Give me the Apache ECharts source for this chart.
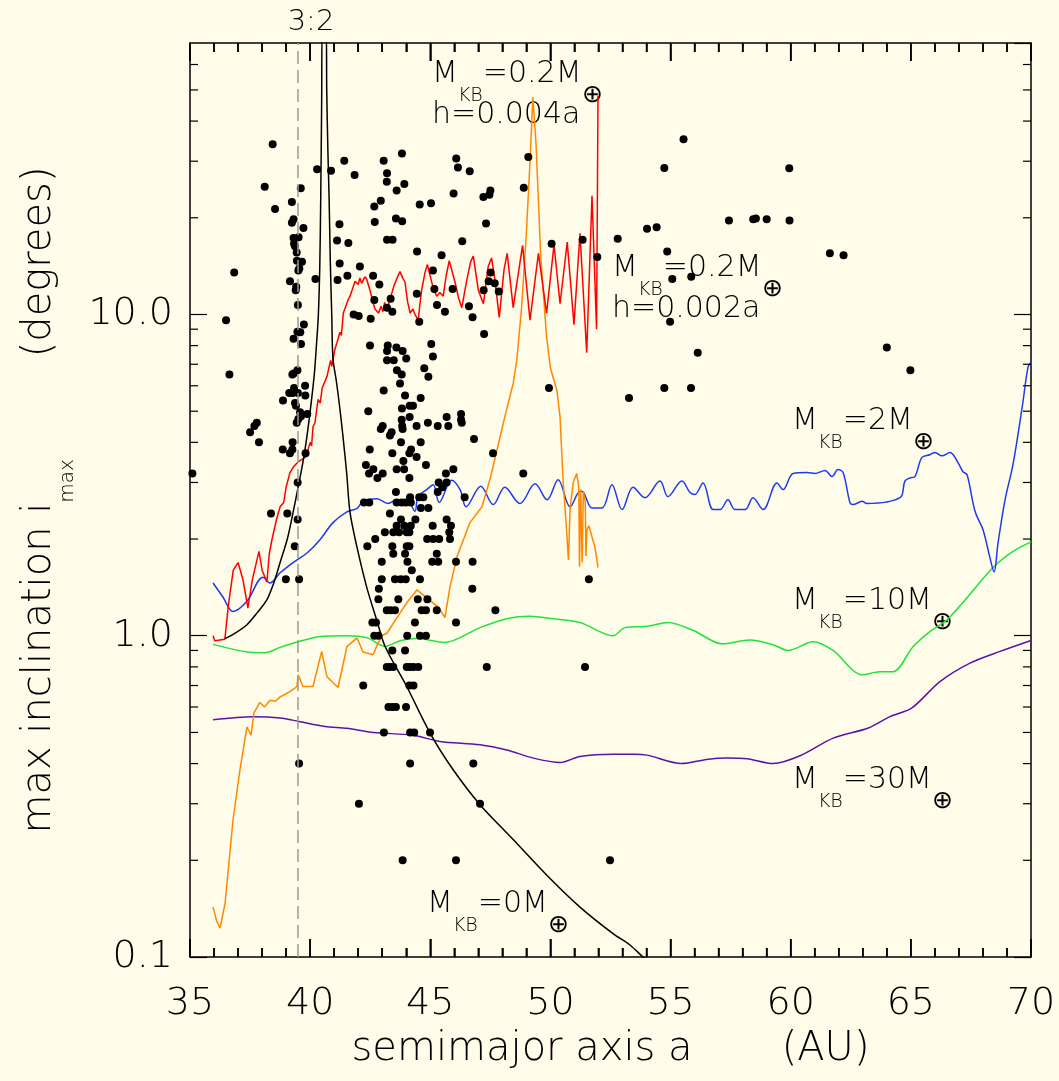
<!DOCTYPE html>
<html>
<head>
<meta charset="utf-8">
<script src="https://cdn.jsdelivr.net/npm/echarts@6/dist/echarts.min.js"></script>
<style>
html,body{margin:0;padding:0;background:#fffcea;}
#c{width:1059px;height:1081px;}
</style>
</head>
<body>
<div id="c"></div>
<script>
// ---------- data ----------
const res32 = 39.48;             // 3:2 resonance (dashed line)
const xTickVals = [35,36,37,38,39,40,41,42,43,44,45,46,47,48,49,50,51,52,53,54,55,56,57,58,59,60,61,62,63,64,65,66,67,68,69,70];
const yMinor = [0.2,0.3,0.4,0.5,0.6,0.7,0.8,0.9,2,3,4,5,6,7,8,9,20,30,40,50,60];

// observed Kuiper belt objects (a [AU], i_max [deg])
const kbo = [
[35.1,3.2],[36.5,9.6],[36.64,6.5],[36.84,13.5],[37.5,4.3],[37.68,4.5],[37.78,4.6],[37.87,4.0],
[38.11,25.0],[38.44,33.9],[38.54,21.3],[38.37,2.4],[38.86,3.8],[38.87,5.4],[38.99,1.5],[39.05,2.4],
[39.13,5.7],[39.16,12.7],[39.16,3.7],[39.24,22.4],[39.24,19.3],[39.26,6.5],[39.26,3.8],[39.27,5.7],
[39.27,4.0],[39.31,19.8],[39.31,17.3],[39.31,8.4],[39.31,6.55],[39.33,16.6],[39.33,5.9],[39.36,1.9],
[39.37,16.3],[39.37,5.3],[39.4,11.9],[39.42,12.2],[39.41,5.2],[39.44,15.6],[39.44,4.6],[39.45,14.7],
[39.47,8.83],[39.47,6.7],[39.48,3.0],[39.48,2.3],[39.49,10.7],[39.49,5.7],[39.51,13.7],[39.51,4.73],
[39.52,17.4],[39.54,1.5],[39.54,0.4],[39.55,13.9],[39.58,4.96],[39.59,8.8],[39.61,24.7],[39.62,8.1],
[39.62,4.82],[39.66,14.6],[39.72,18.6],[39.74,9.3],[39.79,6.0],[39.8,5.6],[39.81,3.7],[39.88,4.9],
[40.22,12.9],[40.29,28.3],[40.87,28.0],[41.12,17.0],[41.14,12.8],[41.22,19.1],[41.23,14.4],[41.42,30.1],
[41.85,27.2],[43.06,30.1],[43.82,31.7],[43.2,27.5],[43.19,25.9],[43.92,25.5],[43.6,24.3],
[46.08,30.6],[46.15,28.7],[46.64,27.9],[45.97,23.8],[47.5,24.3],[47.46,23.6],[47.21,23.2],
[42.94,22.6],[42.67,21.7],[44.56,22.0],[45.03,22.2],[43.57,19.9],[43.83,19.5],[42.69,19.4],[47.32,19.2],
[43.2,17.1],[43.43,17.1],[41.59,16.7],[46.33,16.9],[44.45,15.7],[45.47,15.3],
[42.07,14.1],[41.55,13.2],[42.62,13.2],[45.11,13.7],[42.88,12.4],[45.17,12.0],[45.93,12.0],[44.44,11.6],
[47.51,13.5],[47.43,12.7],[47.68,12.5],[47.22,11.9],[47.85,11.8],
[42.67,11.1],[43.35,11.2],[43.2,10.5],[43.42,10.2],[45.28,10.7],[45.61,10.2],[46.61,10.6],[46.76,9.8],
[41.81,10.0],[42.02,9.9],[42.52,9.7],[44.54,9.5],[47.24,8.7],
[42.49,8.0],[43.23,8.0],[43.2,7.7],[43.59,7.9],[43.85,7.7],[45.04,8.1],[45.11,7.4],
[43.2,7.2],[43.48,7.2],[44.0,7.3],[43.61,6.7],[43.81,6.5],[44.75,6.8],[44.92,6.4],
[43.74,6.1],[43.06,5.8],[43.95,5.6],[44.6,5.5],[44.14,5.2],[44.28,5.2],[43.82,5.1],
[42.42,5.0],[43.81,4.7],[44.14,4.8],[45.68,4.8],[46.28,4.9],[46.28,4.7],[46.31,4.6],
[44.9,4.6],[44.43,4.5],[45.31,4.5],[45.75,4.5],[43.83,4.5],[43.02,4.5],[42.94,4.4],
[43.39,4.3],[43.32,4.2],[43.85,4.4],[46.82,4.1],[43.78,4.0],[44.6,4.0],[42.48,3.8],[43.42,3.7],
[44.2,3.8],[44.13,3.7],[44.43,3.6],[47.61,3.7],[43.88,3.5],[44.82,3.4],
[42.32,3.4],[42.63,3.3],[42.45,3.2],[42.8,3.1],[43.02,3.2],[43.6,3.3],[43.91,3.3],[44.13,3.1],
[45.96,3.3],[45.65,3.2],[45.35,3.0],[45.68,3.0],[45.5,2.9],[45.31,2.8],[43.57,2.8],
[42.24,2.6],[42.46,2.6],[43.6,2.6],[43.81,2.6],[43.98,2.6],[44.16,2.7],[44.19,2.6],[44.54,2.7],[44.71,2.7],
[44.61,2.5],[44.92,2.5],[46.43,2.7],[43.32,2.4],[43.78,2.3],[44.38,2.3],[45.68,2.3],
[43.6,2.2],[43.92,2.2],[44.19,2.2],[45.1,2.2],[45.86,2.2],
[43.11,2.1],[43.46,2.1],[43.7,2.1],[44.02,2.1],[44.13,2.1],[45.79,2.1],
[42.71,2.0],[44.87,2.0],[45.12,2.0],[45.37,2.0],[45.82,2.0],
[42.38,1.9],[43.42,1.9],[44.02,1.9],[44.13,1.9],[43.46,1.8],[43.95,1.8],[45.27,1.8],
[42.98,1.7],[44.05,1.7],[45.08,1.7],[45.33,1.7],[46.07,1.7],[46.76,1.7],[44.23,1.6],
[42.98,1.5],[43.53,1.5],[43.77,1.5],[43.98,1.5],[44.57,1.5],[42.86,1.4],[46.75,1.4],
[42.84,1.3],[43.67,1.3],[44.48,1.3],[44.88,1.3],
[43.19,1.2],[43.35,1.2],[43.53,1.2],[44.64,1.2],[44.82,1.2],[45.27,1.2],[47.71,1.2],
[42.59,1.1],[42.74,1.1],[44.36,1.1],[46.07,1.1],
[42.67,1.0],[42.84,1.0],[44.04,1.0],[44.57,1.0],[44.82,1.0],[43.42,0.9],[43.95,0.9],
[43.19,0.8],[43.32,0.8],[43.46,0.8],[44.02,0.8],[44.16,0.8],[44.3,0.8],[44.5,0.8],[47.35,0.8],[51.44,0.8],
[42.21,0.7],[44.13,0.7],[44.3,0.7],[43.26,0.6],[43.42,0.6],[43.57,0.6],[43.99,0.6],
[43.07,0.5],[44.16,0.5],[44.33,0.5],[44.99,0.5],[44.16,0.4],[46.79,0.4],
[42.03,0.3],[47.07,0.3],[43.85,0.2],[46.07,0.2],[52.48,0.2],
[49.08,30.9],[48.89,24.8],[50.05,16.6],[51.34,17.1],[51.95,15.1],[52.8,17.2],
[55.54,35.1],[54.74,28.6],[59.94,28.5],[57.43,19.6],[58.44,19.8],[58.55,19.9],[59.0,19.8],[59.95,19.6],
[54.02,18.5],[54.42,18.7],[54.86,15.7],[61.63,15.5],[62.2,15.3],
[55.07,12.9],[55.86,13.1],[54.98,9.5],[56.13,7.6],[64.0,7.9],[64.98,6.7],
[53.27,5.5],[54.74,5.9],[55.85,5.9],[51.6,1.5],[49.94,5.9],[48.87,3.2]
];

// M_KB = 0 (black)
const mkb0 = [
[36.45,0.98],[36.8,1.01],[37.36,1.08],[37.8,1.18],[38.19,1.29],[38.5,1.47],[38.75,1.69],[39.05,2.0],
[39.29,2.42],[39.52,2.95],[39.72,3.54],[39.9,4.35],[40.06,5.44],[40.18,6.6],[40.27,8.18],[40.34,9.9],
[40.4,14],[40.44,22.9],[40.48,46.7],[40.5,75],
[40.67,75],[40.69,50],[40.74,32],[40.79,22.9],[40.84,14.5],[40.9,9.9],[40.95,7.3],[41.1,6.13],
[41.24,5.07],[41.38,4.08],[41.52,3.21],[41.66,2.42],[41.94,1.9],[42.35,1.42],[42.77,1.12],[43.12,0.926],
[44.02,0.695],[44.99,0.498],[45.96,0.382],[47.07,0.298],[48.45,0.232],[49.84,0.18],[51.23,0.143],
[52.62,0.118],[53.31,0.109],[53.85,0.1],[54.0,0.098]
];
// M_KB = 0.2, h = 0.002a (red)
const mkb02b = [
[35.96,1.0],[36.03,0.965],[36.45,0.975],[36.6,1.25],[36.8,1.6],[37.0,1.69],[37.2,1.5],[37.41,1.22],
[37.6,1.5],[37.87,1.83],[38.0,1.6],[38.2,1.47],[38.3,1.8],[38.41,1.99],[38.6,2.3],[38.75,2.52],[38.9,2.6],[39.0,2.9],
[39.16,3.22],[39.3,3.35],[39.5,3.48],[39.83,3.61],[40.0,4.0],[40.06,3.9],[40.12,4.48],[40.2,4.6],[40.33,5.44],[40.42,5.3],[40.5,5.9],[40.7,6.41],
[40.85,7.2],[40.9,6.9],[41.03,7.79],[41.12,8.2],[41.24,8.8],[41.3,8.6],[41.38,10.1],[41.58,11.1],[41.66,11.4],[41.87,12.7],[42.0,12.4],[42.07,13.0],[42.14,12.5],[42.21,12.6],
[42.28,13.1],[42.35,12.9],[42.49,11.9],[42.62,10.9],[42.7,10.4],[42.84,10.1],[42.95,10.6],[43.03,10.2],[43.1,10.9],[43.2,10.4],[43.3,11.0],
[43.49,12.3],[43.62,13.0],[43.74,13.6],[43.85,13.0],[43.95,12.6],[44.05,11.0],[44.16,10.1],[44.28,10.4],[44.36,10.0],[44.5,9.6],[44.57,10.8],[44.64,11.9],[44.78,13.5],[44.88,14.3],
[45.06,12.6],[45.17,11.8],[45.27,11.4],[45.4,11.7],[45.54,11.4],[45.66,13.2],[45.79,14.7],[46.03,12.6],[46.17,11.3],[46.31,10.5],[46.52,12.8],[46.68,14.6],[46.79,15.2],
[47.0,11.9],[47.21,10.8],[47.41,14.1],[47.55,15.0],[47.69,12.8],[47.87,9.8],[48.07,13.8],[48.2,15.5],
[48.45,10.5],[48.84,16.4],[49.15,9.6],[49.5,15.5],[49.84,10.1],[50.15,16.5],[50.4,10.8],[50.7,16.8],
[50.98,9.3],[51.23,17.9],[51.51,7.6],[51.73,23.4],[51.92,9.0],[51.98,48]
];
// M_KB = 0.2, h = 0.004a (orange)
const mkb02a = [
[35.96,0.143],[36.1,0.13],[36.25,0.123],[36.46,0.147],[36.79,0.267],[37.08,0.383],[37.37,0.52],
[37.54,0.49],[37.66,0.575],[37.91,0.62],[38.1,0.6],[38.33,0.63],[38.55,0.625],[38.75,0.645],[39.0,0.66],
[39.16,0.67],[39.45,0.695],[39.5,0.756],[39.7,0.695],[40.12,0.695],[40.48,0.894],[40.7,0.745],
[41.16,0.69],[41.53,0.925],[41.95,0.985],[42.2,0.89],[42.62,0.873],[42.8,0.94],[42.99,1.0],[43.2,1.02],
[44.03,1.27],[44.45,1.39],[44.86,1.31],[45.32,1.23],[45.61,1.14],[45.82,1.42],[46.11,1.76],[46.65,2.25],
[47.15,2.52],[47.5,3.1],[47.78,3.8],[48.1,4.8],[48.45,6.1],[48.6,7.2],[48.8,10.5],[49.0,18],[49.15,30],
[49.27,47.5],[49.4,34],[49.6,15],[49.84,8.5],[50.0,6.8],[50.27,5.8],[50.4,4.8],[50.53,3.0],[50.66,2.2],
[50.75,1.72],[50.82,2.5],[50.95,3.0],[51.09,3.2],[51.18,2.9],[51.21,1.64],[51.26,2.85],[51.32,1.69],
[51.37,2.8],[51.45,2.6],[51.48,1.77],[51.52,2.14],[51.6,2.2],[51.73,2.03],[51.85,1.89],[51.98,1.63]
];
// M_KB = 2 (blue)
const mkb2 = [
[35.96,1.46],[36.37,1.32],[36.79,1.19],[37.37,1.28],[38.04,1.52],[38.33,1.46],[38.75,1.57],[39.29,1.69],
[39.87,1.81],[40.41,1.99],[40.95,2.25],[41.53,2.43],[41.95,2.49],[42.2,2.62],[42.78,2.67],[43.24,2.58],
[43.61,2.65],[44.08,2.62],[44.36,2.44],[44.49,2.71],[44.85,2.85],[45.12,2.95],[45.37,2.6],[45.89,3.05],
[46.24,2.85],[46.49,2.52],[47.1,2.92],[47.62,2.56],[48.1,2.9],[48.73,2.58],[49.36,2.97],[49.86,2.65],
[50.32,3.06],[50.82,2.52],[51.23,2.81],[51.32,2.81],[51.73,2.5],[52.15,2.5],[52.56,2.95],[52.98,2.47],
[53.44,2.9],[53.93,2.69],[54.56,3.03],[54.89,2.71],[55.47,3.03],[55.81,2.79],[56.01,2.75],[56.35,2.99],
[56.77,2.47],[57.06,2.47],[57.39,2.65],[57.68,2.47],[58.1,2.47],[58.43,2.69],[58.85,2.47],[59.43,2.99],
[59.68,2.85],[60.1,3.2],[60.68,3.22],[61.01,3.2],[61.43,3.27],[61.72,3.13],[61.97,3.29],[62.18,3.22],
[62.47,2.59],[62.59,2.56],[62.97,2.62],[63.17,2.58],[64.55,2.69],[64.75,3.03],[64.96,3.1],[65.17,3.13],
[65.46,3.59],[65.79,3.66],[66.0,3.72],[66.29,3.63],[66.63,3.72],[66.96,3.46],[67.17,3.24],[67.34,3.17],
[67.67,2.44],[68.0,2.14],[68.29,1.75],[68.46,1.58],[68.63,1.95],[68.92,2.65],[69.25,3.41],[69.63,5.13],
[69.88,6.88],[70.0,7.1]
];
// M_KB = 10 (green)
const mkb10 = [
[35.96,0.94],[37.37,0.89],[38.12,0.885],[38.75,0.92],[39.5,0.958],[40.41,0.995],[41.53,1.0],[42.37,0.985],
[43.12,0.926],[43.74,0.965],[44.43,0.98],[45.61,0.953],[47.07,1.06],[48.19,1.13],[49.15,1.15],[50.1,1.13],
[51.23,1.1],[52.6,1.0],[53.1,1.06],[54.02,1.07],[54.89,1.1],[55.93,1.04],[57.14,0.944],[58.31,0.97],
[59.26,0.938],[59.89,0.9],[60.93,0.958],[61.76,0.9],[62.97,0.756],[63.71,0.772],[64.26,0.772],
[65.09,0.924],[65.79,1.03],[66.5,1.12],[67.17,1.27],[68.42,1.63],[69.25,1.83],[70.0,1.96]
];
// M_KB = 30 (purple)
const mkb30 = [
[35.96,0.548],[37.62,0.56],[38.75,0.555],[39.58,0.54],[40.62,0.522],[41.53,0.515],[42.63,0.5],
[44.29,0.49],[45.4,0.469],[47.07,0.458],[48.18,0.441],[49.29,0.416],[50.4,0.403],[51.23,0.421],
[52.62,0.428],[53.5,0.428],[54.02,0.425],[55.46,0.4],[56.5,0.412],[57.34,0.416],[58.18,0.414],
[59.27,0.4],[60.39,0.423],[61.77,0.48],[63.23,0.516],[64.13,0.56],[65.03,0.595],[66.21,0.72],
[67.46,0.822],[68.71,0.894],[70.0,0.967]
];

// ---------- chart ----------
const FONT = 'DejaVu Sans';
const INK = '#000';
const chart = echarts.init(document.getElementById('c'), null, {renderer: 'canvas'});

const mctx = document.createElement('canvas').getContext('2d');
function tw(t, size) { mctx.font = '200 ' + size + 'px "' + FONT + '"'; return mctx.measureText(t).width; }
function txt(t, x, y, size, align) {
  return {type: 'text', x: x, y: y, silent: true,
    style: {text: t, fontSize: size, fontFamily: FONT, fontWeight: 200, fill: INK,
            align: align || 'left', verticalAlign: 'middle',
            textAlign: align || 'left', textVerticalAlign: 'middle'}};
}
function massLabel(x, y, val, line2) {
  const out = []; let cx = x;
  out.push(txt('M', cx, y, 30)); cx += tw('M', 30);
  out.push(txt('KB', cx, y + 22, 19)); cx += tw('KB', 19);
  const s = '=' + val + 'M';
  out.push(txt(s, cx, y, 30)); cx += tw(s, 30);
  out.push(txt('\u2295', cx, y + 21, 25));
  if (line2) out.push(txt(line2, x, y + 41, 30));
  return out;
}
const graphics = [].concat(
  [txt('3:2', 311, 22, 29, 'center')],
  massLabel(432, 74, '0.2', 'h=0.004a'),
  massLabel(612, 268, '0.2', 'h=0.002a'),
  massLabel(792, 421, '2'),
  massLabel(792, 601, '10'),
  massLabel(792, 780, '30'),
  massLabel(427, 904, '0')
);

const axisLine = {show: true, onZero: false, lineStyle: {color: '#000', width: 1.5}};
const xCommon = {
  type: 'value', min: 35, max: 70, interval: 5,
  axisLine: axisLine,
  axisTick: {show: true, inside: true, length: 18, lineStyle: {color: '#000', width: 1.5}},
  minorTick: {show: true, splitNumber: 5, length: 9, lineStyle: {color: '#000', width: 1.5}},
  splitLine: {show: false}, minorSplitLine: {show: false}
};
const yCommon = {
  type: 'log', logBase: 10, min: 0.1, max: 70,
  axisLine: axisLine,
  axisTick: {show: true, inside: true, length: 17, lineStyle: {color: '#000', width: 1.2}},
  splitLine: {show: false}
};

function line(data, color, smooth) {
  return {type: 'line', data: data, showSymbol: false, symbol: 'none', smooth: smooth || false,
    clip: true, silent: true, lineStyle: {color: color, width: 1.5}, z: 3};
}
function tickRect(x, y, w, h) {
  return {type: 'rect', shape: {x: x, y: y, width: w, height: h}, style: {fill: '#000'}};
}

// one custom series draws the frame's minor y ticks (kind 0) and all x ticks (kind 1)
const tickData = yMinor.map(function (v) { return [35, v, 0]; })
  .concat(xTickVals.map(function (a) { return [a, 1, 1]; }));

const option = {
  backgroundColor: '#fffcea',
  animation: false,
  textStyle: {fontFamily: FONT},
  grid: {left: 190, right: 28, top: 43, bottom: 124, containLabel: false},
  xAxis: [
    Object.assign({}, xCommon, {
      position: 'bottom',
      axisLabel: {show: true, fontSize: 38, fontFamily: FONT, fontWeight: 200, color: INK, margin: 28},
      name: 'semimajor axis a       (AU)', nameLocation: 'middle', nameGap: 73,
      nameTextStyle: {fontSize: 40, fontFamily: FONT, fontWeight: 200, color: INK}
    }),
    Object.assign({}, xCommon, {position: 'top', axisLabel: {show: false}})
  ],
  yAxis: [
    Object.assign({}, yCommon, {
      position: 'left',
      axisLabel: {show: true, fontSize: 38, fontFamily: FONT, fontWeight: 200, color: INK, margin: 17,
        showMaxLabel: false, showMinLabel: true,
        formatter: function (v) { return Number(v).toFixed(1); }},
      name: '{n|max inclination i}{s|max}{n|        (degrees)}',
      nameLocation: 'middle', nameGap: 112,
      nameTextStyle: {
        color: INK,
        rich: {
          n: {fontSize: 40, fontFamily: FONT, fontWeight: 200, color: INK, verticalAlign: 'top'},
          s: {fontSize: 20, fontFamily: FONT, fontWeight: 200, color: INK, verticalAlign: 'top', padding: [38, 0, 0, 0]}
        }
      }
    }),
    Object.assign({}, yCommon, {position: 'right', axisLabel: {show: false}})
  ],
  series: [
    {
      type: 'custom', name: 'frameTicks', silent: true, z: 10, clip: false,
      data: tickData,
      encode: {x: 0, y: 1},
      renderItem: function (params, api) {
        const kind = api.value(2);
        if (kind === 0) {
          const v = api.value(1);
          const l = api.coord([35, v]);
          const r = api.coord([70, v]);
          return {type: 'group', children: [
            tickRect(l[0], l[1] - 0.6, 8, 1.2),
            tickRect(r[0] - 8, r[1] - 0.6, 8, 1.2)
          ]};
        }
        const a = api.value(0);
        const len = (Math.round(a) % 5 === 0) ? 18 : 9;
        const b = api.coord([a, 0.1]);
        const t = api.coord([a, 70]);
        return {type: 'group', children: [
          tickRect(b[0] - 0.8, b[1] - len, 1.6, len),
          tickRect(t[0] - 0.8, t[1], 1.6, len)
        ]};
      }
    },
    {
      type: 'scatter', name: 'KBOs', data: kbo, symbol: 'circle', symbolSize: 8, silent: true,
      itemStyle: {color: '#000', opacity: 1}, z: 4,
      markLine: {
        silent: true, symbol: ['none', 'none'], label: {show: false},
        lineStyle: {color: '#9a9a9a', type: [13, 6], width: 1.5},
        data: [{xAxis: res32}]
      }
    },
    line(mkb30, '#5b13a6', 0.3),
    line(mkb10, '#1fe43a', 0.3),
    line(mkb2, '#1a3cf0', 0.35),
    line(mkb02a, '#ff8800', false),
    line(mkb02b, '#ff0000', false),
    line(mkb0, '#000000', 0.3)
  ],
  graphic: graphics
};
chart.setOption(option);
</script>
</body>
</html>
